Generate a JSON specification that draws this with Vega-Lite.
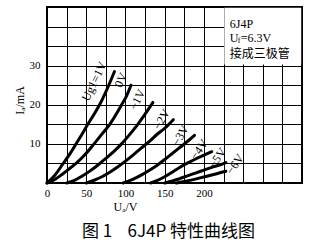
{
  "$schema": "https://vega.github.io/schema/vega-lite/v6.json",
  "width": 255,
  "height": 176,
  "autosize": {"type": "none"},
  "padding": {"left": 47, "top": 7, "right": 30, "bottom": 66},
  "background": "white",
  "config": {
    "view": {"stroke": "black", "strokeWidth": 2},
    "font": "Liberation Serif"
  },
  "title": {
    "text": "图\u00a01\u00a0\u00a0\u00a0\u00a06J4P\u00a0特性曲线图",
    "orient": "bottom",
    "anchor": "middle",
    "font": "Noto Sans CJK SC",
    "fontSize": 17,
    "fontWeight": "normal",
    "color": "black",
    "offset": 12,
    "dx": -6
  },
  "datasets": {
    "curves": [
      {"s": "+1V", "v": 0, "i": 0}, {"s": "+1V", "v": 10, "i": 2}, {"s": "+1V", "v": 20, "i": 4.8}, {"s": "+1V", "v": 30, "i": 7.7}, {"s": "+1V", "v": 37, "i": 10}, {"s": "+1V", "v": 45, "i": 12.6}, {"s": "+1V", "v": 52, "i": 15}, {"s": "+1V", "v": 60, "i": 17.6}, {"s": "+1V", "v": 67, "i": 20}, {"s": "+1V", "v": 75, "i": 23.3}, {"s": "+1V", "v": 86, "i": 28.5},
      {"s": "0V", "v": 0, "i": 0}, {"s": "0V", "v": 10, "i": 0.9}, {"s": "0V", "v": 20, "i": 2.3}, {"s": "0V", "v": 30, "i": 3.9}, {"s": "0V", "v": 37, "i": 5}, {"s": "0V", "v": 50, "i": 7.6}, {"s": "0V", "v": 60, "i": 10}, {"s": "0V", "v": 70, "i": 12.5}, {"s": "0V", "v": 80, "i": 15}, {"s": "0V", "v": 90, "i": 18.2}, {"s": "0V", "v": 95, "i": 20}, {"s": "0V", "v": 101, "i": 22.1}, {"s": "0V", "v": 107, "i": 25},
      {"s": "-1V", "v": 25, "i": 0}, {"s": "-1V", "v": 35, "i": 0.7}, {"s": "-1V", "v": 45, "i": 1.8}, {"s": "-1V", "v": 55, "i": 3.1}, {"s": "-1V", "v": 65, "i": 4.6}, {"s": "-1V", "v": 75, "i": 6.3}, {"s": "-1V", "v": 87, "i": 8.4}, {"s": "-1V", "v": 95, "i": 10}, {"s": "-1V", "v": 105, "i": 12.3}, {"s": "-1V", "v": 115, "i": 14.8}, {"s": "-1V", "v": 125, "i": 17.6}, {"s": "-1V", "v": 135, "i": 20.6},
      {"s": "-2V", "v": 50, "i": 0}, {"s": "-2V", "v": 60, "i": 0.7}, {"s": "-2V", "v": 70, "i": 1.6}, {"s": "-2V", "v": 81, "i": 2.9}, {"s": "-2V", "v": 90, "i": 4.1}, {"s": "-2V", "v": 100, "i": 5.6}, {"s": "-2V", "v": 110, "i": 7.2}, {"s": "-2V", "v": 120, "i": 8.9}, {"s": "-2V", "v": 132, "i": 10.9}, {"s": "-2V", "v": 140, "i": 12.4}, {"s": "-2V", "v": 150, "i": 14}, {"s": "-2V", "v": 161, "i": 16.2},
      {"s": "-3V", "v": 97, "i": 0}, {"s": "-3V", "v": 110, "i": 1}, {"s": "-3V", "v": 120, "i": 2}, {"s": "-3V", "v": 130, "i": 3.2}, {"s": "-3V", "v": 140, "i": 4.5}, {"s": "-3V", "v": 150, "i": 6}, {"s": "-3V", "v": 160, "i": 7.6}, {"s": "-3V", "v": 170, "i": 9.2}, {"s": "-3V", "v": 180, "i": 10.8}, {"s": "-3V", "v": 188, "i": 12.2},
      {"s": "-4V", "v": 132, "i": 0}, {"s": "-4V", "v": 140, "i": 0.6}, {"s": "-4V", "v": 150, "i": 1.6}, {"s": "-4V", "v": 160, "i": 2.8}, {"s": "-4V", "v": 170, "i": 4.1}, {"s": "-4V", "v": 180, "i": 5.2}, {"s": "-4V", "v": 190, "i": 6.2}, {"s": "-4V", "v": 200, "i": 7.1}, {"s": "-4V", "v": 210, "i": 8},
      {"s": "-5V", "v": 150, "i": 0}, {"s": "-5V", "v": 160, "i": 0.5}, {"s": "-5V", "v": 170, "i": 1.2}, {"s": "-5V", "v": 180, "i": 1.9}, {"s": "-5V", "v": 190, "i": 2.6}, {"s": "-5V", "v": 200, "i": 3.3}, {"s": "-5V", "v": 210, "i": 4}, {"s": "-5V", "v": 220, "i": 4.6}, {"s": "-5V", "v": 228, "i": 5.2},
      {"s": "-6V", "v": 165, "i": 0}, {"s": "-6V", "v": 175, "i": 0.4}, {"s": "-6V", "v": 185, "i": 0.8}, {"s": "-6V", "v": 195, "i": 1.3}, {"s": "-6V", "v": 205, "i": 1.8}, {"s": "-6V", "v": 215, "i": 2.3}, {"s": "-6V", "v": 228, "i": 3}
    ],
    "labels": [
      {"t": "Ug1=1V", "v": 60, "i": 26, "g": "a"},
      {"t": "0V", "v": 94, "i": 26.3, "g": "a"},
      {"t": "−1V", "v": 115, "i": 21.3, "g": "a"},
      {"t": "−2V", "v": 146, "i": 16.3, "g": "b"},
      {"t": "−3V", "v": 170, "i": 12.2, "g": "b"},
      {"t": "−4V", "v": 193.7, "i": 8.6, "g": "c"},
      {"t": "−5V", "v": 217, "i": 6.4, "g": "c"},
      {"t": "−6V", "v": 239.6, "i": 4.8, "g": "c"}
    ],
    "box": [{"v": 226, "v2": 324, "i": 30.3, "i2": 44.8}],
    "note": [
      {"t": "接成三极管", "v": 233, "i": 33}
    ],
    "head": [{"t": "6J4P", "v": 233, "i": 40.7}],
    "uf": [{"v": 233, "i": 37.2}]
  },
  "encoding": {
    "x": {
      "field": "v", "type": "quantitative",
      "scale": {"domain": [0, 325], "nice": false, "zero": false},
      "axis": {
        "values": [0, 25, 50, 75, 100, 125, 150, 175, 200, 225, 250, 275, 300, 325],
        "labelExpr": "datum.value <= 200 && datum.value % 50 == 0 ? datum.label : ''",
        "grid": true, "gridColor": "black", "gridWidth": 1, "gridOpacity": 1,
        "ticks": false, "domain": false,
        "labelFont": "Liberation Serif", "labelFontSize": 11, "labelColor": "black", "labelPadding": 4,
        "labelFlush": false,
        "title": "Uₐ/V", "titleFont": "Liberation Serif", "titleFontSize": 12, "titleFontWeight": "normal", "titleColor": "black",
        "titleX": 78, "titleY": 23, "titleAlign": "center", "titleBaseline": "middle"
      }
    },
    "y": {
      "field": "i", "type": "quantitative",
      "scale": {"domain": [0, 45], "nice": false, "zero": false},
      "axis": {
        "values": [5, 10, 15, 20, 25, 30, 35, 40, 45],
        "labelExpr": "datum.value % 10 == 0 && datum.value <= 30 ? datum.label : ''",
        "grid": true, "gridColor": "black", "gridWidth": 1, "gridOpacity": 1,
        "ticks": false, "domain": false,
        "labelFont": "Liberation Serif", "labelFontSize": 11, "labelColor": "black", "labelPadding": 7,
        "title": "Iₐ/mA", "titleFont": "Liberation Serif", "titleFontSize": 12, "titleFontWeight": "normal", "titleColor": "black",
        "titleX": -28, "titleY": 93, "titleAngle": -90, "titleAlign": "center", "titleBaseline": "middle"
      }
    }
  },
  "layer": [
    {
      "data": {"name": "box"},
      "mark": {"type": "rect", "fill": "white", "stroke": null},
      "encoding": {"x2": {"field": "v2"}, "y2": {"field": "i2"}}
    },
    {
      "data": {"name": "curves"},
      "mark": {"type": "line", "color": "black", "strokeWidth": 3, "interpolate": "monotone", "strokeCap": "round"},
      "encoding": {"detail": {"field": "s", "type": "nominal"}}
    },
    {
      "data": {"name": "labels"},
      "transform": [{"filter": "datum.g == 'a'"}],
      "mark": {"type": "text", "angle": -64, "font": "Liberation Serif", "fontSize": 12, "color": "black", "align": "center", "baseline": "middle"},
      "encoding": {"text": {"field": "t"}}
    },
    {
      "data": {"name": "labels"},
      "transform": [{"filter": "datum.g == 'b'"}],
      "mark": {"type": "text", "angle": -60, "font": "Liberation Serif", "fontSize": 12, "color": "black", "align": "center", "baseline": "middle"},
      "encoding": {"text": {"field": "t"}}
    },
    {
      "data": {"name": "labels"},
      "transform": [{"filter": "datum.g == 'c'"}],
      "mark": {"type": "text", "angle": -55, "font": "Liberation Serif", "fontSize": 12, "color": "black", "align": "center", "baseline": "middle"},
      "encoding": {"text": {"field": "t"}}
    },
    {
      "data": {"name": "head"},
      "mark": {"type": "text", "font": "Liberation Serif", "fontSize": 12, "color": "black", "align": "left", "baseline": "middle"},
      "encoding": {"text": {"field": "t"}}
    },
    {
      "data": {"name": "note"},
      "mark": {"type": "text", "font": "Noto Sans CJK SC", "fontSize": 12, "color": "black", "align": "left", "baseline": "middle"},
      "encoding": {"text": {"field": "t"}}
    },
    {
      "data": {"name": "uf"},
      "mark": {"type": "text", "text": "U", "font": "Liberation Serif", "fontSize": 12, "color": "black", "align": "left", "baseline": "middle"}
    },
    {
      "data": {"name": "uf"},
      "mark": {"type": "text", "text": "f", "font": "Liberation Serif", "fontSize": 8, "color": "black", "align": "left", "baseline": "middle", "dx": 8, "dy": 3}
    },
    {
      "data": {"name": "uf"},
      "mark": {"type": "text", "text": "=6.3V", "font": "Liberation Serif", "fontSize": 12, "color": "black", "align": "left", "baseline": "middle", "dx": 11}
    }
  ]
}
